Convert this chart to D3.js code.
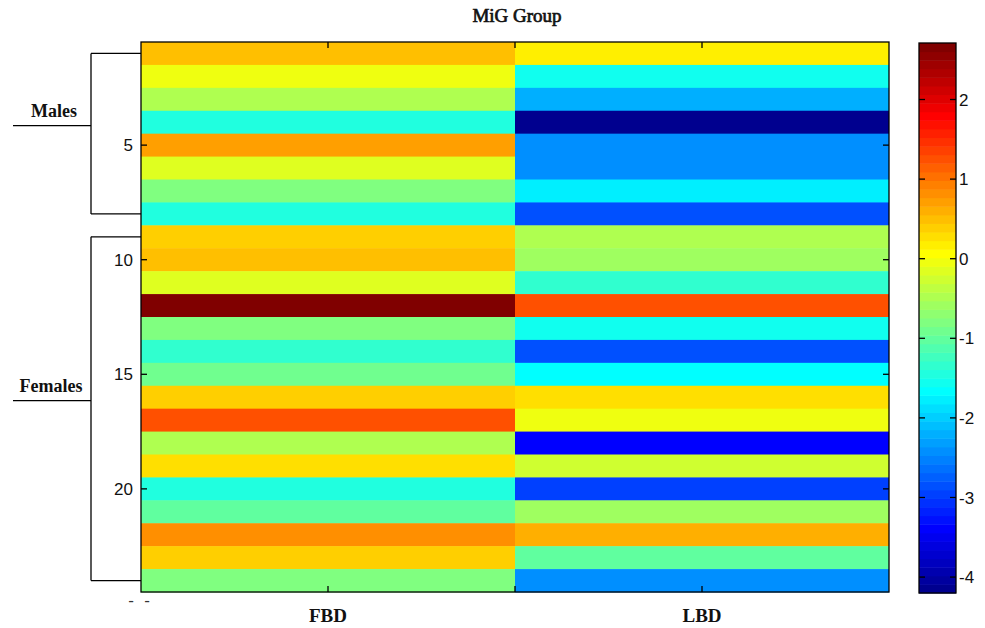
<!DOCTYPE html>
<html>
<head>
<meta charset="utf-8">
<script src="https://cdn.jsdelivr.net/npm/d3@7/dist/d3.min.js"></script>
<style>
  html, body { margin: 0; padding: 0; background: #fff; }
  svg { display: block; }
</style>
</head>
<body>
<svg id="chart" width="985" height="628"></svg>
<script>
// ---------------- data ----------------
const title = "MiG Group";
const categories = ["FBD", "LBD"];
const subjects = d3.range(1, 25);
const fbdValues = [0.46, -0.06, -0.45, -1.40, 0.66, -0.14, -0.76, -1.40,
                   0.34, 0.46, -0.12, 2.71, -0.83, -1.38, -0.93, 0.35,
                   1.20, -0.43, 0.24, -1.40, -1.03, 0.79, 0.35, -0.83];
const lbdValues = [0.12, -1.55, -2.18, -4.20, -2.46, -2.43, -1.81, -2.83,
                   -0.52, -0.63, -1.30, 1.20, -1.55, -2.90, -1.71, 0.24,
                   -0.06, -3.34, -0.21, -3.00, -0.63, 0.59, -1.05, -2.46];
const yTickValues = [5, 10, 15, 20];
const colorbarTicks = [-4, -3, -2, -1, 0, 1, 2];
const groupNames = ["Males", "Females"];
const groupStarts = [1, 9];
const groupEnds = [8, 24];

// ---------------- layout ----------------
const svg = d3.select("#chart");
const plot = { left: 141, right: 889, top: 42, bottom: 592 };
const cbar = { left: 919, right: 956, top: 43, bottom: 593 };

const cells = [];
subjects.forEach((s, i) => {
  cells.push({ row: s, col: categories[0], v: fbdValues[i] });
  cells.push({ row: s, col: categories[1], v: lbdValues[i] });
});

const x = d3.scaleBand().domain(categories).range([plot.left, plot.right]).padding(0);
const y = d3.scaleBand().domain(subjects).range([plot.top, plot.bottom]).padding(0);
// continuous row position (MATLAB-like index axis)
const yLin = d3.scaleLinear().domain([0.5, 24.5]).range([plot.top, plot.bottom]);
const xLin = d3.scaleLinear().domain([0.5, 2.5]).range([plot.left, plot.right]);

const extent = d3.extent(fbdValues.concat(lbdValues));
const cmin = extent[0], cmax = extent[1];

// MATLAB jet(64)
function jetMap(m) {
  const n = Math.ceil(m / 4);
  const u = [];
  for (let i = 1; i <= n; i++) u.push(i / n);
  for (let i = 1; i < n; i++) u.push(1);
  for (let i = n; i >= 1; i--) u.push(i / n);
  const gOff = Math.ceil(n / 2) - (m % 4 === 1 ? 1 : 0);
  const cols = [];
  for (let k = 1; k <= m; k++) {
    const gi = k - gOff, ri = gi - n, bi = gi + n;
    const val = idx => (idx >= 1 && idx <= u.length) ? u[idx - 1] : 0;
    cols.push(d3.rgb(255 * val(ri), 255 * val(gi), 255 * val(bi)).formatHex());
  }
  return cols;
}
const jet = jetMap(64);
const color = d3.scaleQuantize().domain([cmin, cmax]).range(jet);

// ---------------- heatmap ----------------
svg.append("g").selectAll("rect")
  .data(cells)
  .join("rect")
  .attr("x", d => x(d.col))
  .attr("y", d => y(d.row))
  .attr("width", x.bandwidth())
  .attr("height", y.bandwidth() + 0.5)
  .attr("fill", d => color(d.v));

// axes box
svg.append("rect")
  .attr("x", plot.left).attr("y", plot.top)
  .attr("width", plot.right - plot.left).attr("height", plot.bottom - plot.top)
  .attr("fill", "none").attr("stroke", "#000").attr("stroke-width", 1.3);

const tickLen = 6;
const axG = svg.append("g").attr("stroke", "#000").attr("stroke-width", 1.3);
// y ticks left and right (inside)
yTickValues.forEach(t => {
  const yy = yLin(t);
  axG.append("line").attr("x1", plot.left).attr("x2", plot.left + tickLen).attr("y1", yy).attr("y2", yy);
  axG.append("line").attr("x1", plot.right).attr("x2", plot.right - tickLen).attr("y1", yy).attr("y2", yy);
});
// x ticks top and bottom (inside)
[1, 1.5, 2].forEach(t => {
  const xx = xLin(t);
  axG.append("line").attr("x1", xx).attr("x2", xx).attr("y1", plot.top).attr("y2", plot.top + tickLen);
  axG.append("line").attr("x1", xx).attr("x2", xx).attr("y1", plot.bottom).attr("y2", plot.bottom - tickLen);
});

// y tick labels
svg.append("g").selectAll("text")
  .data(yTickValues)
  .join("text")
  .attr("x", plot.left - 8)
  .attr("y", d => yLin(d))
  .attr("dy", "0.36em")
  .attr("text-anchor", "end")
  .attr("font-family", "Liberation Sans, Arial, sans-serif")
  .attr("font-size", 17)
  .attr("fill", "#111")
  .text(d => d);

// x labels
svg.append("g").selectAll("text")
  .data(categories)
  .join("text")
  .attr("x", d => x(d) + x.bandwidth() / 2)
  .attr("y", 622)
  .attr("text-anchor", "middle")
  .attr("font-family", "Liberation Serif, Times New Roman, serif")
  .attr("font-weight", "bold")
  .attr("font-size", 19)
  .attr("fill", "#111")
  .text(d => d);

// stray dashes at bottom-left
svg.append("g").selectAll("text")
  .data([131, 147])
  .join("text")
  .attr("x", d => d)
  .attr("y", 606)
  .attr("text-anchor", "middle")
  .attr("font-family", "Liberation Sans, Arial, sans-serif")
  .attr("font-size", 17)
  .attr("fill", "#333")
  .text("-");

// title
svg.append("text")
  .attr("x", 517).attr("y", 22)
  .attr("text-anchor", "middle")
  .attr("font-family", "Liberation Serif, Times New Roman, serif")
  .attr("font-size", 19)
  .attr("fill", "#111")
  .attr("stroke", "#111").attr("stroke-width", 0.7)
  .text(title);

// group brackets
const brX = 91;
const grp = svg.append("g");
groupNames.forEach((name, i) => {
  const y0 = yLin(groupStarts[i]);
  const y1 = yLin(groupEnds[i]);
  const ym = (y0 + y1) / 2 - 8;
  const g = grp.append("g").attr("stroke", "#000").attr("stroke-width", 1.3);
  g.append("line").attr("x1", brX).attr("x2", brX).attr("y1", y0).attr("y2", y1);
  g.append("line").attr("x1", brX).attr("x2", plot.left).attr("y1", y0).attr("y2", y0);
  g.append("line").attr("x1", brX).attr("x2", plot.left).attr("y1", y1).attr("y2", y1);
  g.append("line").attr("x1", 13).attr("x2", brX).attr("y1", ym).attr("y2", ym);
  grp.append("text")
    .attr("x", i === 0 ? 54 : 51)
    .attr("y", ym - 9)
    .attr("text-anchor", "middle")
    .attr("font-family", "Liberation Serif, Times New Roman, serif")
    .attr("font-weight", "bold")
    .attr("font-size", 18)
    .attr("fill", "#111")
    .text(name);
});

// ---------------- colorbar ----------------
const cb = d3.scaleLinear().domain([cmin, cmax]).range([cbar.bottom, cbar.top]);
const step = (cmax - cmin) / jet.length;
svg.append("g").selectAll("rect")
  .data(jet)
  .join("rect")
  .attr("x", cbar.left)
  .attr("width", cbar.right - cbar.left)
  .attr("y", (d, i) => cb(cmin + (i + 1) * step))
  .attr("height", (d, i) => cb(cmin + i * step) - cb(cmin + (i + 1) * step) + 0.5)
  .attr("fill", d => d);
svg.append("rect")
  .attr("x", cbar.left).attr("y", cbar.top)
  .attr("width", cbar.right - cbar.left).attr("height", cbar.bottom - cbar.top)
  .attr("fill", "none").attr("stroke", "#000").attr("stroke-width", 1.3);
const cbG = svg.append("g").attr("stroke", "#000").attr("stroke-width", 1.3);
colorbarTicks.forEach(t => {
  const yy = cb(t);
  cbG.append("line").attr("x1", cbar.left).attr("x2", cbar.left + 6).attr("y1", yy).attr("y2", yy);
  cbG.append("line").attr("x1", cbar.right).attr("x2", cbar.right - 6).attr("y1", yy).attr("y2", yy);
});
svg.append("g").selectAll("text")
  .data(colorbarTicks)
  .join("text")
  .attr("x", cbar.right + 3)
  .attr("y", d => cb(d))
  .attr("dy", "0.36em")
  .attr("font-family", "Liberation Sans, Arial, sans-serif")
  .attr("font-size", 17)
  .attr("fill", "#111")
  .text(d => d);
</script>
</body>
</html>
